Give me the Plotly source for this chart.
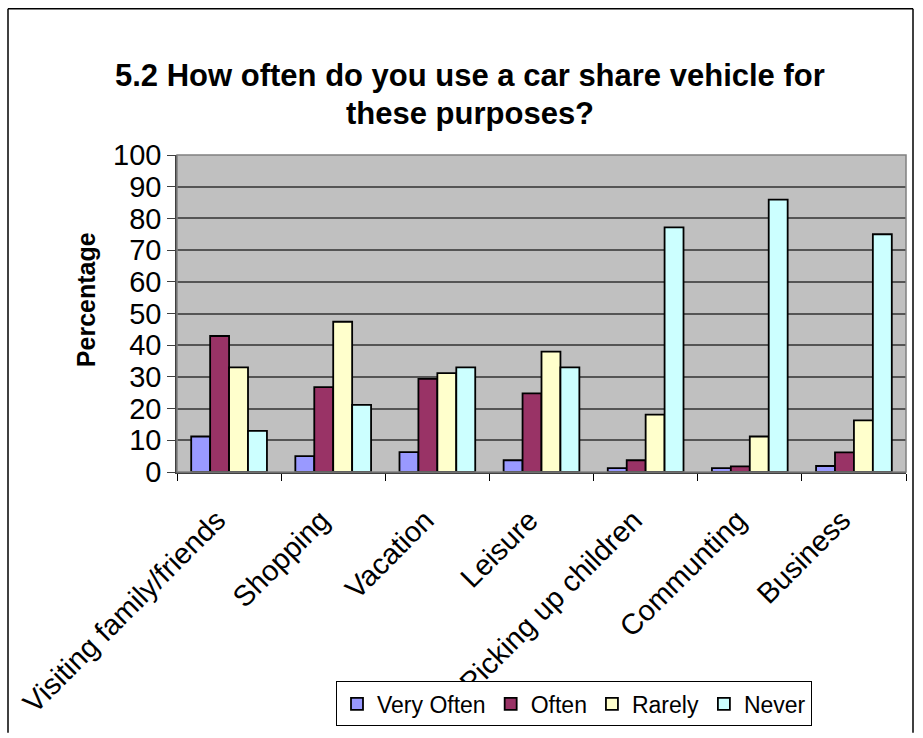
import plotly.graph_objects as go

categories = ["Visiting family/friends", "Shopping", "Vacation", "Leisure",
              "Picking up children", "Communting", "Business"]
very_often = [11.2, 5.0, 6.3, 3.7, 1.2, 1.2, 1.9]
often = [42.9, 26.8, 29.4, 24.8, 3.7, 1.8, 6.2]
rarely = [33.0, 47.4, 31.2, 38.0, 18.1, 11.2, 16.3]
never = [13.0, 21.2, 33.0, 33.0, 77.2, 85.9, 75.0]
series_names = ["Very Often", "Often", "Rarely", "Never"]
series_colors = ["#9999FF", "#993366", "#FFFFCC", "#CCFFFF"]
y_ticks = list(range(0, 101, 10))

fig = go.Figure()
for name, vals, col in zip(series_names, [very_often, often, rarely, never], series_colors):
    fig.add_trace(go.Bar(
        x=categories, y=vals, name=name,
        marker=dict(color=col, line=dict(color="#000000", width=1.8)),
    ))

W, H = 923, 738
L, R, T, B = 177, 17, 155, 262
pw, ph = W - L - R, H - T - B

def fx(px):
    return (px - L) / pw

def fy(py):
    return 1 - (py - T) / ph

fig.update_layout(
    width=W, height=H,
    margin=dict(l=L, r=R, t=T, b=B, pad=0),
    paper_bgcolor="#FFFFFF",
    plot_bgcolor="#C0C0C0",
    barmode="group",
    bargap=1.5 / 5.5,
    bargroupgap=0,
    font=dict(family="Liberation Sans, Arial, sans-serif", color="#000000", size=24),
    showlegend=True,
    legend=dict(
        orientation="h",
        x=fx(336), xanchor="left",
        y=fy(688), yanchor="top",
        bgcolor="#FFFFFF",
        bordercolor="#000000", borderwidth=1,
        font=dict(size=23),
        itemwidth=30,
        tracegroupgap=0,
    ),
    xaxis=dict(
        type="category",
        tickangle=-45,
        tickfont=dict(size=29),
        ticks="outside", ticklen=7, tickcolor="#000000", tickwidth=1,
        tickson="boundaries",
        ticklabelstandoff=18,
        ticklabelshift=-12,
        showline=True, linecolor="#404040", linewidth=1.5,
        showgrid=False,
    ),
    yaxis=dict(
        range=[0, 100],
        tickvals=y_ticks,
        tickfont=dict(size=29),
        ticks="outside", ticklen=8, tickcolor="#404040", tickwidth=1,
        showline=True, linecolor="#404040", linewidth=1.5,
        showgrid=True, gridcolor="#555555", gridwidth=1.5,
        zeroline=False,
    ),
    annotations=[
        dict(text="<b>5.2 How often do you use a car share vehicle for</b>",
             x=fx(470), y=fy(75), xref="paper", yref="paper",
             showarrow=False, font=dict(size=31), xanchor="center", yanchor="middle"),
        dict(text="<b>these purposes?</b>",
             x=fx(470), y=fy(113), xref="paper", yref="paper",
             showarrow=False, font=dict(size=31), xanchor="center", yanchor="middle"),
        dict(text="<b>Percentage</b>", textangle=-90,
             x=fx(86), y=fy(302), xref="paper", yref="paper",
             showarrow=False, font=dict(size=25), xanchor="center", yanchor="middle"),
    ],
    shapes=[
        dict(type="rect", xref="paper", yref="paper",
             x0=0, x1=1, y0=0, y1=1,
             line=dict(color="#808080", width=1.5)),
        dict(type="line", xref="paper", yref="paper",
             x0=fx(8), x1=fx(8), y0=fy(7), y1=fy(740),
             line=dict(color="#000000", width=1.5)),
        dict(type="line", xref="paper", yref="paper",
             x0=fx(8), x1=fx(913), y0=fy(7), y1=fy(7),
             line=dict(color="#000000", width=1.5)),
        dict(type="line", xref="paper", yref="paper",
             x0=fx(913), x1=fx(913), y0=fy(7), y1=fy(740),
             line=dict(color="#000000", width=1.5)),
    ],
)

fig.write_html("out.html")
